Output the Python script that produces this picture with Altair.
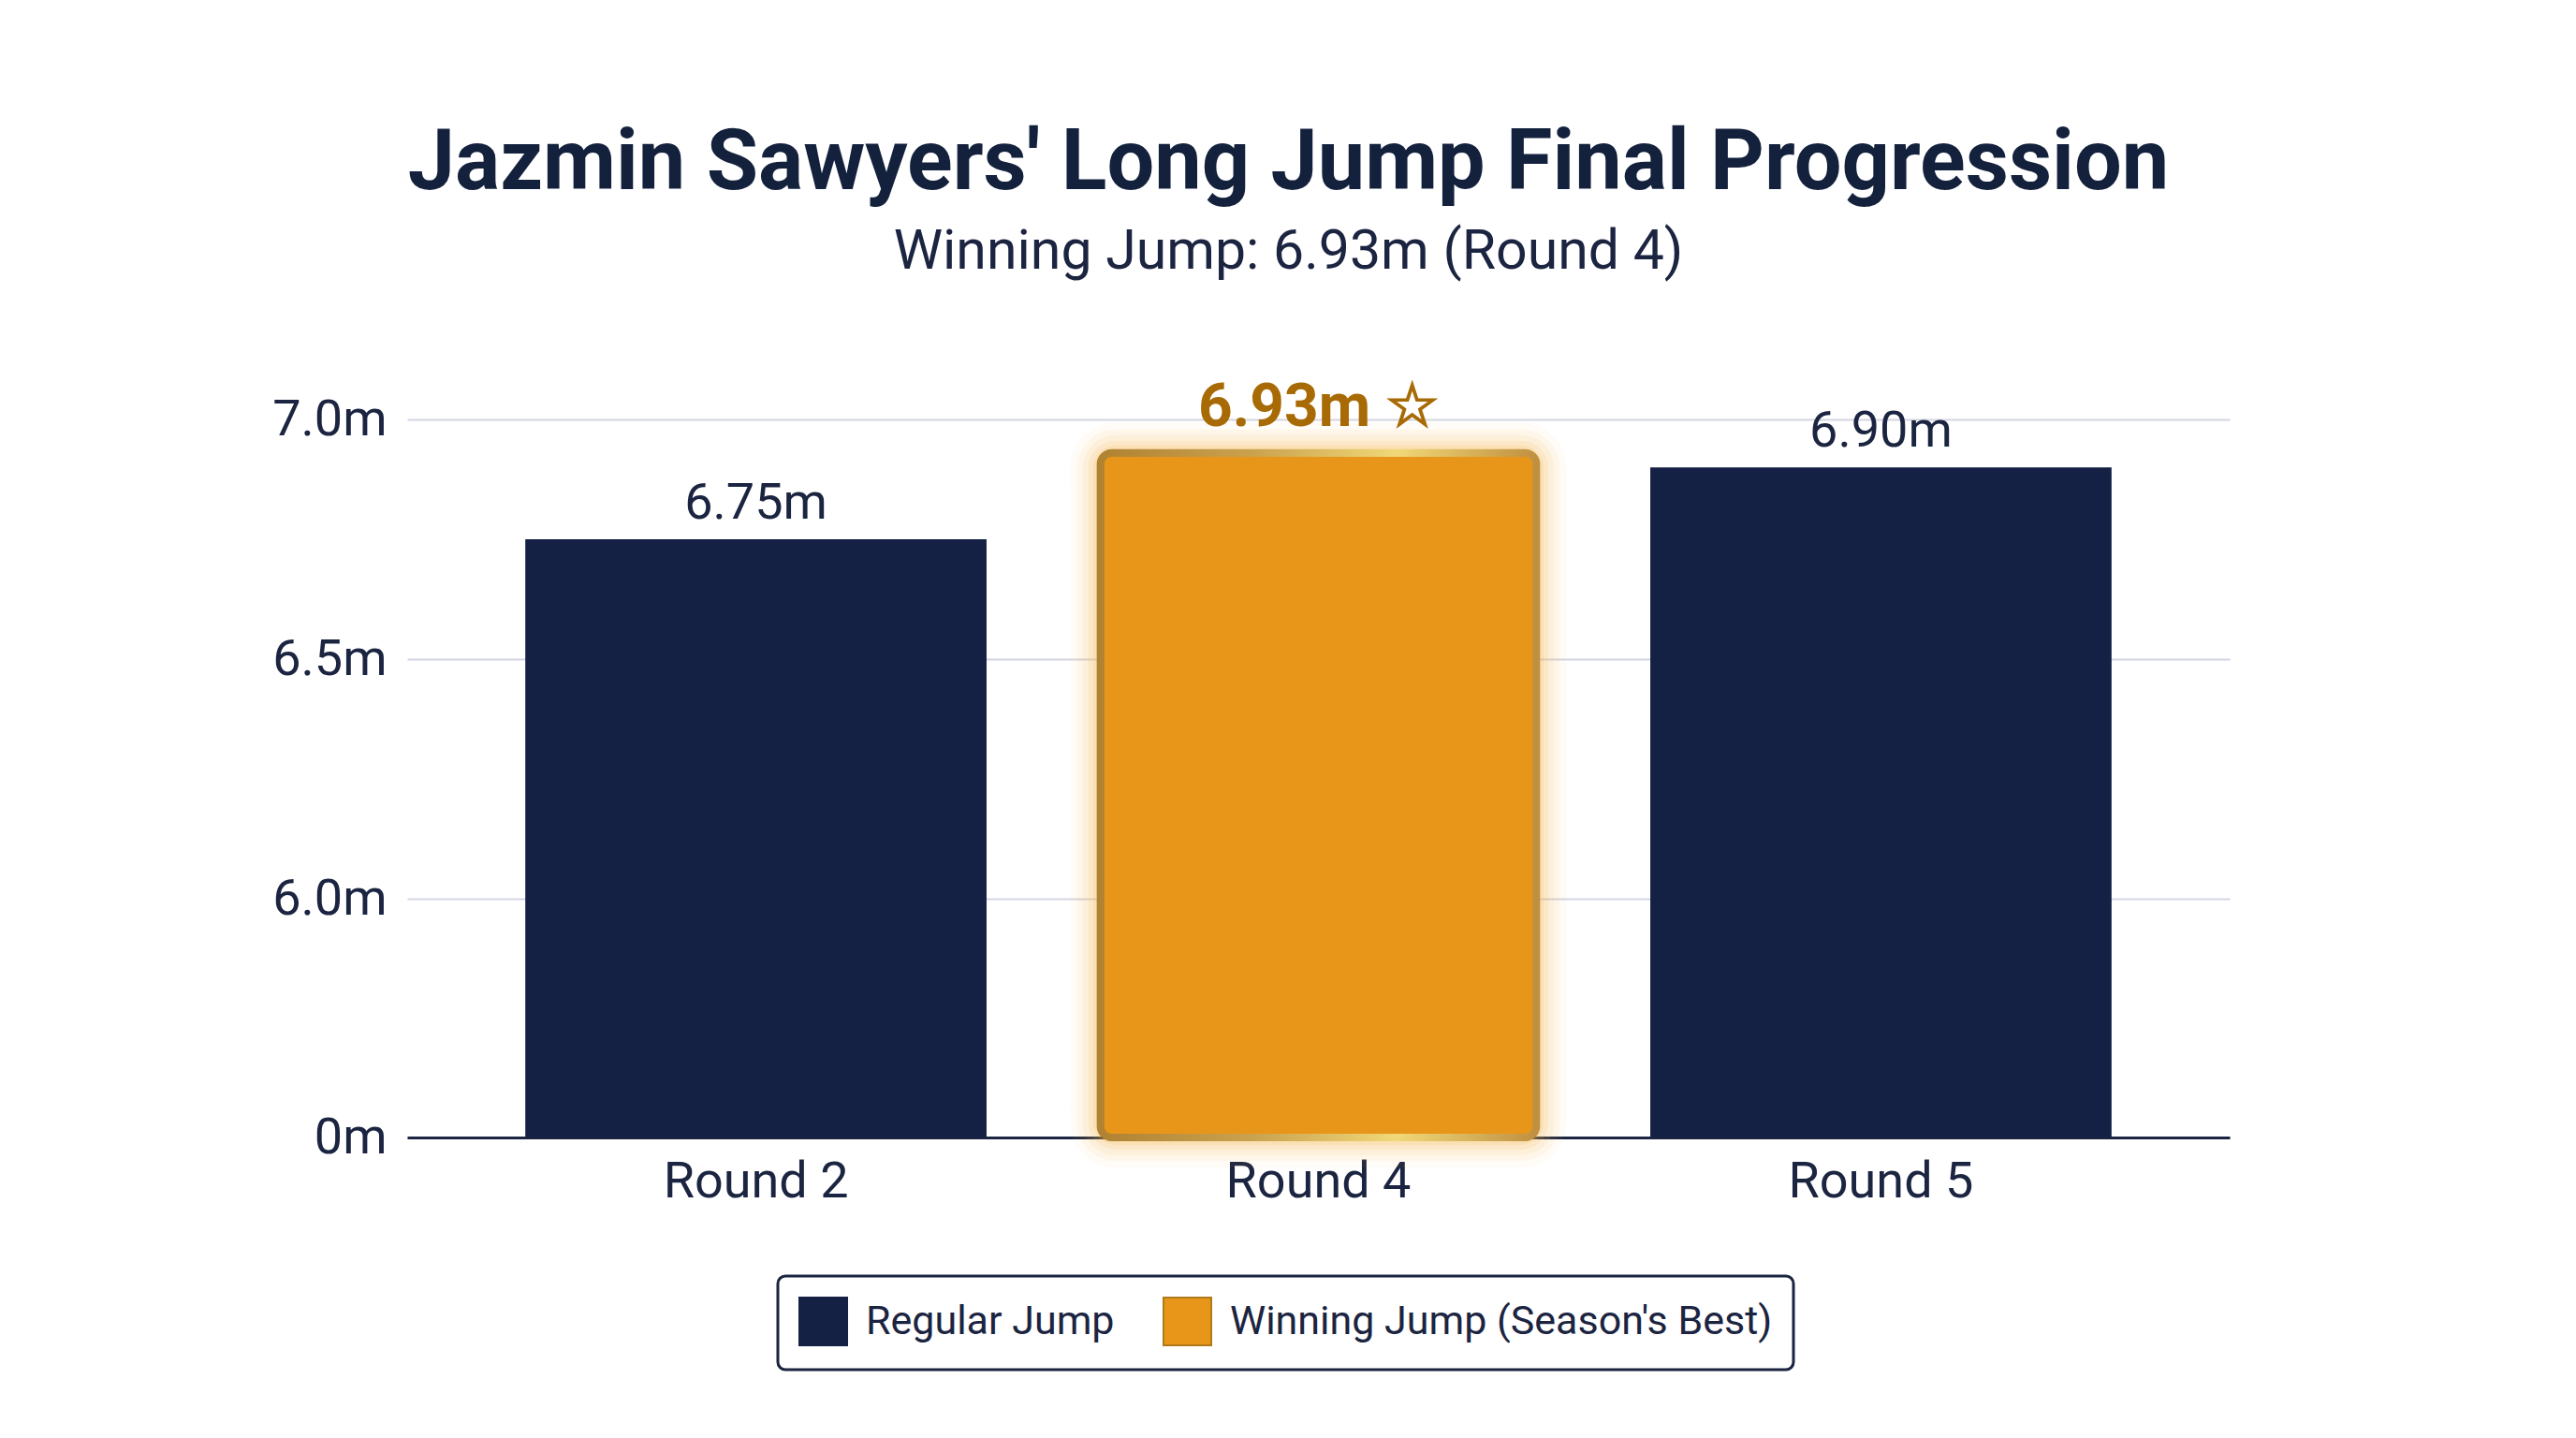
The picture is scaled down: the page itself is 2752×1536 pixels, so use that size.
import altair as alt
import pandas as pd

rounds = ["Round 2", "Round 4", "Round 5"]
distances = [6.75, 6.93, 6.90]
jump_types = ["Regular Jump", "Winning Jump (Season's Best)", "Regular Jump"]
value_labels = ["6.75m", "6.93m ☆", "6.90m"]
y_ticks = [0, 6.0, 6.5, 7.0]

df = pd.DataFrame({"Round": rounds, "Distance": distances, "Type": jump_types, "Label": value_labels})

NAVY = "#142145"
ORANGE = "#e8961a"
TEXT = "#1b2440"
FONT = "Roboto"
TYPES = ["Regular Jump", "Winning Jump (Season's Best)"]

H = 767
W = 1947

x_enc = alt.X("Round:N", sort=rounds,
              scale=alt.Scale(paddingInner=0.18, paddingOuter=0.21),
              axis=alt.Axis(title=None, labelAngle=0, labelFontSize=54, labelColor=TEXT,
                            labelFont=FONT, labelPadding=20, ticks=False, labelLimit=0,
                            domainColor=TEXT, domainWidth=3, grid=False))
y_scale = alt.Scale(domain=[0, 6, 7], range=[H, 512, 0], nice=False, zero=False)
y_enc = alt.Y("Distance:Q", scale=y_scale,
              axis=alt.Axis(title=None, values=y_ticks, labelFontSize=54, labelColor=TEXT,
                            labelFont=FONT, labelPadding=22, ticks=False, domain=False,
                            gridColor="#d3d6e2", gridWidth=2, labelLimit=0,
                            labelExpr="datum.value == 0 ? '0m' : format(datum.value, '.1f') + 'm'"))

color_scale = alt.Scale(domain=TYPES, range=[NAVY, ORANGE])
stroke_scale = alt.Scale(domain=TYPES, range=[NAVY, "#b07a1c"])

base = alt.Chart(df).encode(x=x_enc, y=y_enc)

legend = alt.Legend(title=None, orient="none", legendX=396, legendY=915, direction="horizontal",
                    columns=2, symbolType="square", symbolSize=2600, labelFontSize=43,
                    labelFont=FONT, labelColor=TEXT, labelOffset=19, columnPadding=48,
                    padding=22, strokeColor=TEXT, fillColor="white", cornerRadius=8,
                    symbolOpacity=1, symbolStrokeWidth=2, labelLimit=0)

win = alt.datum.Type == "Winning Jump (Season's Best)"
reg = alt.datum.Type == "Regular Jump"

glows = [
    base.transform_filter(win).mark_bar(fillOpacity=0, stroke="#f7b949", strokeWidth=w, strokeOpacity=o,
                                         cornerRadius=16, width=alt.RelativeBandSize(0.945))
    for w, o in [(64, 0.05), (50, 0.07), (38, 0.09), (26, 0.12), (16, 0.16)]
]

reg_bars = base.transform_filter(reg).mark_bar(strokeWidth=0).encode(
    fill=alt.Fill("Type:N", scale=color_scale, legend=legend),
    stroke=alt.Stroke("Type:N", scale=stroke_scale, legend=legend))

win_bar = base.transform_filter(win).mark_bar(
    cornerRadius=12, strokeWidth=8, width=alt.RelativeBandSize(0.945),
    stroke=alt.Gradient(gradient="linear", x1=0, x2=1, y1=0, y2=0,
                        stops=[alt.GradientStop(color="#b08232", offset=0),
                               alt.GradientStop(color="#caa24e", offset=0.35),
                               alt.GradientStop(color="#f0d878", offset=0.68),
                               alt.GradientStop(color="#c09040", offset=1)])
).encode(fill=alt.Fill("Type:N", scale=color_scale, legend=legend))

reg_text = base.transform_filter(reg).mark_text(
    baseline="bottom", dy=-11, fontSize=54, font=FONT, color=TEXT
).encode(text="Label:N")

win_text = base.transform_filter(win).mark_text(
    baseline="bottom", dy=-16, fontSize=64, font=FONT, fontWeight="bold", color="#a86a05"
).encode(text="Label:N")

chart = alt.layer(*glows, reg_bars, win_bar, reg_text, win_text).properties(
    width=W, height=H,
    autosize=alt.AutoSizeParams(type="none"),
    padding={"left": 427, "top": 440, "right": 350, "bottom": 300},
    background="white",
    title=alt.TitleParams(
        text="Jazmin Sawyers' Long Jump Final Progression",
        subtitle="Winning Jump: 6.93m (Round 4)",
        anchor="middle", dx=-32, fontSize=90, font=FONT, fontWeight="bold", color="#14213d",
        subtitleFont=FONT, subtitleFontSize=59, subtitleColor=TEXT, subtitlePadding=19,
        offset=104)
).configure_view(stroke=None).configure_legend(strokeWidth=3)

chart.save("out.html", embed_options={"renderer": "svg", "actions": False})
